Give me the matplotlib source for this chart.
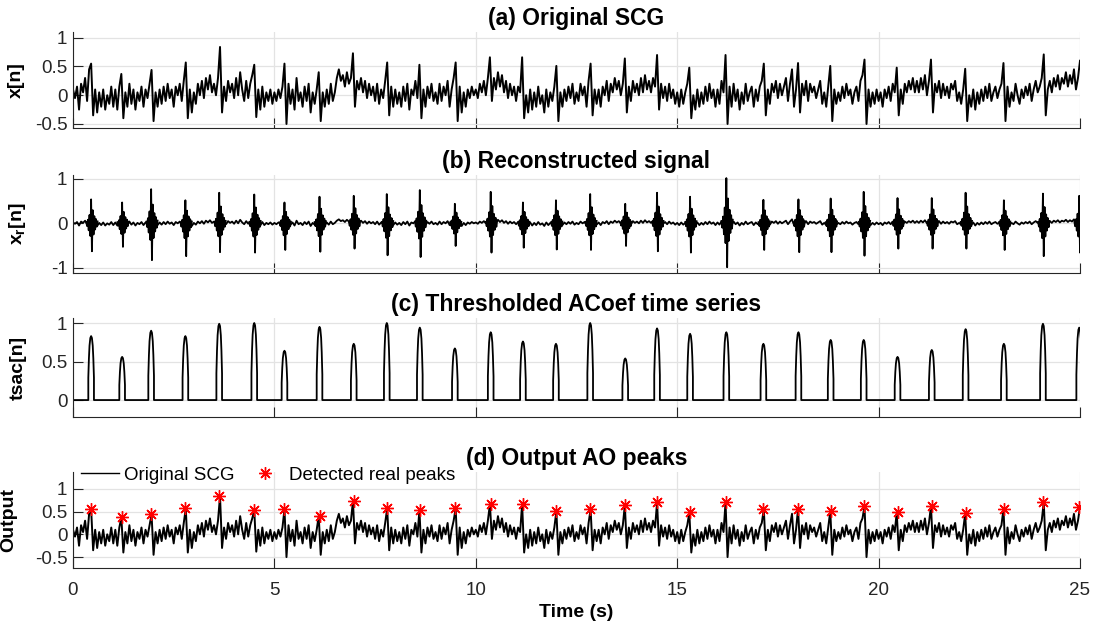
import numpy as np
import matplotlib
matplotlib.use('Agg')
import matplotlib.pyplot as plt
from matplotlib.lines import Line2D

plt.rcParams['font.family'] = ['Liberation Sans', 'DejaVu Sans']
plt.rcParams['mathtext.fontset'] = 'custom'
plt.rcParams['mathtext.rm'] = 'Liberation Sans:bold'
plt.rcParams['mathtext.it'] = 'Liberation Sans:bold'
plt.rcParams['mathtext.bf'] = 'Liberation Sans:bold'

# ---- data ----
# original SCG, one row per second, sampled every 0.05 s (last value at t = 25 s)
scg_rows = [
    [0.10, -0.05, 0.15, -0.25, 0.20, 0.05, 0.30, -0.10, 0.45, 0.55, -0.35, 0.10, -0.30, 0.05, -0.20, 0.10, -0.25, 0.00, -0.15, 0.15],
    [-0.20, 0.10, -0.25, 0.15, 0.37, -0.40, 0.05, -0.20, 0.20, -0.15, 0.10, -0.25, 0.05, -0.10, 0.15, -0.20, 0.10, -0.05, 0.20, 0.44],
    [-0.45, 0.05, -0.20, 0.10, -0.15, 0.15, -0.10, 0.20, -0.05, 0.10, -0.20, 0.15, 0.00, 0.20, -0.10, 0.25, 0.57, -0.40, 0.10, -0.30],
    [0.05, -0.15, 0.20, 0.00, 0.25, -0.05, 0.30, 0.10, 0.35, 0.05, 0.20, 0.00, 0.30, 0.84, -0.30, 0.15, -0.10, 0.25, 0.05, 0.20],
    [-0.05, 0.30, 0.00, 0.40, 0.10, -0.10, 0.25, -0.05, 0.20, 0.35, 0.53, -0.38, 0.10, -0.25, 0.15, -0.20, 0.05, -0.10, 0.10, -0.15],
    [0.05, -0.10, 0.10, -0.05, 0.15, 0.55, -0.50, 0.20, -0.15, 0.10, -0.25, 0.30, -0.10, 0.05, -0.20, 0.15, -0.10, 0.20, -0.30, 0.05],
    [-0.15, 0.10, 0.40, -0.45, 0.05, -0.20, 0.10, -0.15, 0.20, -0.10, 0.05, 0.30, 0.45, 0.25, 0.35, 0.15, 0.40, 0.20, 0.30, 0.73],
    [-0.20, 0.25, 0.10, 0.30, 0.05, 0.25, -0.05, 0.20, 0.00, 0.15, -0.10, 0.20, -0.15, 0.10, -0.05, 0.25, 0.57, -0.35, 0.15, -0.20],
    [0.10, -0.15, 0.05, -0.20, 0.15, -0.10, 0.20, -0.25, 0.10, 0.00, 0.25, -0.05, 0.53, -0.40, 0.10, -0.20, 0.15, -0.05, 0.20, -0.10],
    [0.05, -0.15, 0.20, -0.10, 0.15, 0.00, 0.25, -0.20, 0.10, 0.30, 0.57, -0.45, 0.15, -0.30, 0.05, -0.20, 0.10, -0.05, 0.15, 0.00],
    [0.10, -0.05, 0.20, 0.05, 0.25, 0.00, 0.30, 0.66, -0.10, 0.30, 0.10, 0.40, 0.15, 0.35, 0.05, 0.25, -0.05, 0.20, 0.00, 0.15],
    [-0.10, 0.15, 0.05, 0.66, -0.40, 0.00, -0.30, 0.10, -0.25, 0.05, -0.20, 0.15, -0.15, 0.00, -0.30, 0.10, -0.20, 0.05, -0.10, 0.15],
    [0.51, -0.45, 0.05, -0.20, 0.10, -0.10, 0.15, -0.05, 0.20, -0.15, 0.05, -0.10, 0.20, 0.00, 0.15, -0.20, 0.25, 0.55, -0.35, 0.10],
    [-0.15, 0.10, -0.20, 0.15, 0.00, 0.25, -0.10, 0.20, 0.05, 0.30, 0.10, 0.25, 0.00, 0.20, 0.64, -0.30, 0.15, -0.10, 0.25, 0.05],
    [0.20, 0.00, 0.30, 0.05, 0.35, 0.10, 0.25, 0.05, 0.30, 0.15, 0.70, -0.25, 0.20, -0.05, 0.15, -0.10, 0.20, -0.05, 0.10, -0.15],
    [0.05, -0.20, 0.10, -0.15, 0.05, 0.20, 0.48, -0.40, 0.00, -0.25, 0.10, -0.20, 0.05, -0.15, 0.15, -0.10, 0.20, -0.05, 0.10, -0.20],
    [0.10, -0.15, 0.25, 0.05, 0.70, -0.50, 0.15, -0.20, 0.20, -0.10, 0.10, -0.25, 0.05, -0.15, 0.20, -0.10, 0.05, 0.15, -0.20, 0.10],
    [-0.10, 0.15, 0.25, 0.55, -0.35, 0.10, -0.15, 0.20, 0.05, 0.25, -0.05, 0.20, 0.00, 0.15, 0.30, -0.10, 0.20, 0.45, -0.20, 0.10],
    [0.56, -0.30, 0.20, 0.00, 0.25, -0.10, 0.20, 0.05, 0.15, -0.05, 0.10, 0.25, -0.15, 0.05, -0.20, 0.15, 0.51, -0.45, 0.10, -0.15],
    [0.05, -0.10, 0.15, -0.05, 0.20, 0.00, 0.10, -0.15, 0.05, 0.15, -0.10, 0.25, 0.35, 0.62, -0.50, 0.10, -0.20, 0.05, -0.15, 0.10],
    [-0.10, 0.05, -0.20, 0.10, -0.05, 0.15, -0.10, 0.20, 0.05, 0.48, -0.35, 0.10, -0.15, 0.20, 0.05, 0.25, 0.10, 0.30, 0.05, 0.25],
    [0.05, 0.30, 0.10, 0.35, 0.00, 0.25, 0.62, -0.30, 0.20, 0.05, 0.25, -0.05, 0.20, 0.00, 0.15, -0.05, 0.20, 0.10, 0.25, -0.10],
    [0.05, -0.15, 0.10, 0.46, -0.45, 0.00, -0.20, 0.10, -0.25, 0.05, -0.15, 0.10, -0.10, 0.15, -0.05, 0.20, -0.10, 0.05, 0.15, -0.05],
    [0.10, 0.20, 0.56, -0.45, 0.15, -0.20, 0.05, -0.10, 0.20, 0.00, -0.15, 0.10, -0.05, 0.15, 0.00, 0.20, -0.10, 0.10, 0.25, 0.05],
    [0.15, 0.30, 0.71, -0.35, 0.10, 0.25, 0.05, 0.30, 0.15, 0.35, 0.10, 0.30, 0.20, 0.40, 0.15, 0.35, 0.20, 0.45, 0.10, 0.30],
]
scg_last = 0.60

# detected AO peaks (time in s, amplitude)
peak_times = [0.45, 1.22, 1.94, 2.79, 3.63, 4.50, 5.25, 6.12, 6.97, 7.79,
              8.61, 9.48, 10.37, 11.17, 11.99, 12.84, 13.71, 14.50, 15.32, 16.22,
              17.14, 18.01, 18.81, 19.63, 20.47, 21.32, 22.16, 23.11, 24.08, 24.98]
peak_vals = [0.55, 0.37, 0.44, 0.57, 0.84, 0.53, 0.55, 0.40, 0.73, 0.57,
             0.53, 0.57, 0.66, 0.66, 0.51, 0.55, 0.64, 0.70, 0.48, 0.70,
             0.55, 0.56, 0.51, 0.62, 0.48, 0.62, 0.46, 0.56, 0.71, 0.60]

# thresholded ACoef pulse heights
tsac_heights = [0.83, 0.56, 0.90, 0.83, 0.99, 1.00, 0.64, 0.95, 0.73, 1.00,
                0.94, 0.67, 0.88, 0.76, 0.73, 1.00, 0.54, 0.93, 0.86, 0.88,
                0.73, 0.88, 0.78, 0.78, 0.56, 0.65, 0.92, 0.73, 0.99, 0.94]
tsac_shape = [0, 0.35, 0.65, 0.85, 0.97, 1.0, 0.97, 0.85, 0.65, 0.35, 0]

# reconstructed signal burst extremes
burst_pos = [0.54, 0.47, 0.77, 0.52, 0.69, 0.65, 0.47, 0.60, 0.62, 0.66,
             0.75, 0.44, 0.71, 0.47, 0.52, 0.66, 0.44, 0.69, 0.60, 1.02,
             0.53, 0.54, 0.56, 0.71, 0.57, 0.57, 0.69, 0.52, 0.67, 0.62]
burst_neg = [0.63, 0.53, 0.83, 0.74, 0.65, 0.66, 0.60, 0.64, 0.57, 0.72,
             0.76, 0.51, 0.66, 0.55, 0.59, 0.60, 0.51, 0.63, 0.66, 0.99,
             0.60, 0.65, 0.65, 0.73, 0.57, 0.57, 0.57, 0.60, 0.74, 0.66]
burst_shape = [0.05, -0.10, 0.15, -0.25, 0.35, -0.45, 1.00, -1.00, 0.55, -0.40,
               0.30, -0.22, 0.18, -0.12, 0.08]

# ---- build series ----
scg = np.array([v for row in scg_rows for v in row] + [scg_last])
t = np.linspace(0, 25, len(scg))

pulse_off = np.array([-0.07, -0.07, -0.055, -0.04, -0.02, 0, 0.02, 0.04, 0.055, 0.07, 0.07])
cx, cy = [0.0], [0.0]
for tp, h in zip(peak_times, tsac_heights):
    cx.extend(tp + pulse_off)
    cy.extend(h * np.array(tsac_shape))
cx.append(25.2)
cy.append(0.0)

burst_off = np.linspace(-0.12, 0.16, len(burst_shape))
bs = np.array(burst_shape)

# ---- figure ----
fig = plt.figure(figsize=(10.95, 6.3), dpi=100)
L, W = 73 / 1095, 1007 / 1095
pos = [(128, 96), (273, 98), (417, 99), (568, 96)]
axes = [fig.add_axes([L, 1 - b / 630, W, h / 630]) for b, h in pos]

dark = '#262626'
grid_c = '#e3e3e3'
for ax in axes:
    ax.set_xlim(0, 25)
    ax.set_xticks([0, 5, 10, 15, 20, 25])
    ax.grid(True, color=grid_c, lw=0.9)
    ax.set_axisbelow(True)
    for s in ['top', 'right']:
        ax.spines[s].set_visible(False)
    for s in ['left', 'bottom']:
        ax.spines[s].set_color(dark)
        ax.spines[s].set_linewidth(0.8)
    ax.tick_params(direction='in', length=7, width=0.8, color=dark,
                   labelcolor=dark, labelsize=13.5, pad=4)
for ax in axes[:3]:
    ax.tick_params(axis='x', labelbottom=False)

ax_a, ax_b, ax_c, ax_d = axes
tkw = dict(fontsize=16.5, fontweight='bold', pad=5)
lkw = dict(fontsize=14, fontweight='bold')

# (a)
ax_a.plot(t, scg, color='black', lw=1.4)
ax_a.set_ylim(-0.57, 1.1)
ax_a.set_yticks([-0.5, 0, 0.5, 1])
ax_a.set_yticklabels(['-0.5', '0', '0.5', '1'])
ax_a.set_title('(a) Original SCG', **tkw)
ax_a.set_ylabel('x[n]', **lkw)
ax_a.yaxis.set_label_coords(-0.048, 0.5)

# (b)
ax_b.plot(t, 0.2 * scg, color='black', lw=1.3)
for tp, bp, bn in zip(peak_times, burst_pos, burst_neg):
    yb = np.where(bs > 0, bs * bp, bs * bn)
    ax_b.plot(tp + burst_off, yb, color='black', lw=1.3)
ax_b.set_ylim(-1.12, 1.09)
ax_b.set_yticks([-1, 0, 1])
ax_b.set_yticklabels(['-1', '0', '1'])
ax_b.set_title('(b) Reconstructed signal', **tkw)
ax_b.set_ylabel('$x_r[n]$', **lkw)
ax_b.yaxis.set_label_coords(-0.045, 0.5)

# (c)
ax_c.plot(cx, cy, color='black', lw=1.3)
ax_c.set_ylim(-0.22, 1.065)
ax_c.set_yticks([0, 0.5, 1])
ax_c.set_yticklabels(['0', '0.5', '1'])
ax_c.set_title('(c) Thresholded ACoef time series', **tkw)
ax_c.set_ylabel('tsac[n]', **lkw)
ax_c.yaxis.set_label_coords(-0.046, 0.5)

# (d)
ax_d.plot(t, scg, color='black', lw=1.4)
ax_d.plot(peak_times, peak_vals, linestyle='none', marker=(8, 2, 0),
          color='red', markersize=9, markeredgewidth=1.0)
ax_d.set_ylim(-0.74, 1.37)
ax_d.set_yticks([-0.5, 0, 0.5, 1])
ax_d.set_yticklabels(['-0.5', '0', '0.5', '1'])
ax_d.tick_params(axis='x', pad=10)
ax_d.set_title('(d) Output AO peaks', **tkw)
ax_d.set_ylabel('Output', **lkw)
ax_d.yaxis.set_label_coords(-0.055, 0.5)
ax_d.set_xlabel('Time (s)', labelpad=4, **lkw)

handles = [Line2D([], [], color='black', lw=1.0),
           Line2D([], [], linestyle='none', marker=(8, 2, 0), color='red',
                  markersize=9, markeredgewidth=1.0)]
fig.legend(handles, ['Original SCG', 'Detected real peaks'], ncol=2,
           frameon=False, loc='center left', bbox_to_anchor=(0.074, 1 - 475 / 630),
           fontsize=13.5, borderpad=0, borderaxespad=0, handlelength=2.0,
           handletextpad=0.3, columnspacing=0.6)

fig.savefig('out.png', dpi=100)
